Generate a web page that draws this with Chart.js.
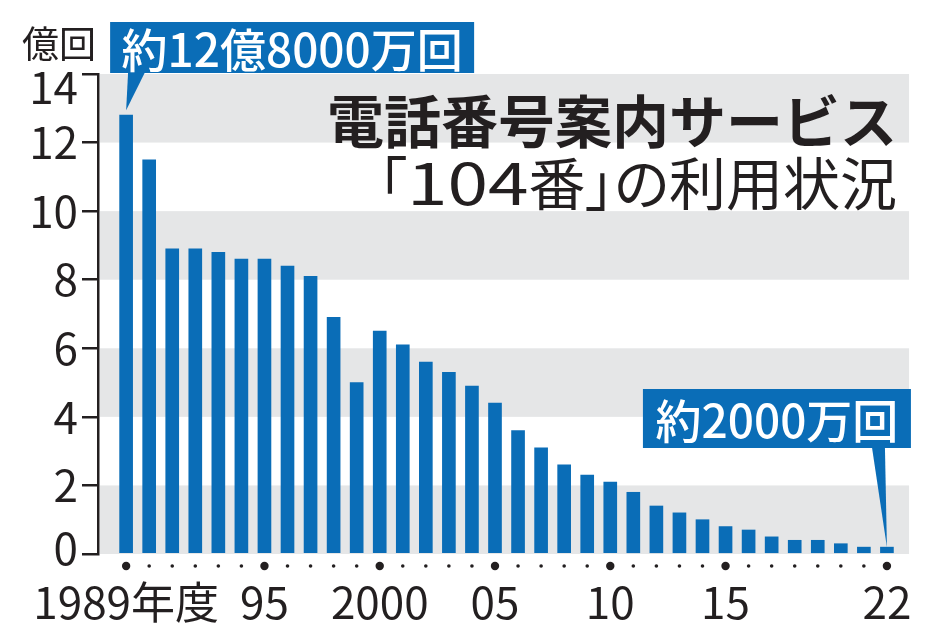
<!DOCTYPE html>
<html lang="ja">
<head>
<meta charset="utf-8">
<title>電話番号案内サービス「104番」の利用状況</title>
<script src="https://cdn.jsdelivr.net/npm/chart.js@4.4.1/dist/chart.umd.min.js"></script>
<style>
  html, body { margin: 0; padding: 0; background: #fff; }
  #wrap { position: relative; width: 934px; height: 638px; }
  #title {
    position: absolute; right: 37px; top: 88px; text-align: right;
    font-family: "Noto Sans CJK JP", sans-serif; color: #231f20; white-space: nowrap;
  }
  #title .l1 { font-size: 57px; font-weight: 700; line-height: 60px; }
  #title .l2 { font-size: 57px; font-weight: 400; line-height: 64px; font-feature-settings: "palt"; }
  #title .num { display: inline-block; transform: scaleX(1.28); transform-origin: 0 50%; margin-right: 27px; }
</style>
</head>
<body>
<div id="wrap">
  <canvas id="chart" width="934" height="638"></canvas>
  <div id="title"></div>
</div>
<script>
(function () {
  'use strict';

  /* 104番の年度別利用回数（億回） */
  const YEARS = [1989, 1990, 1991, 1992, 1993, 1994, 1995, 1996, 1997, 1998,
                 1999, 2000, 2001, 2002, 2003, 2004, 2005, 2006, 2007, 2008,
                 2009, 2010, 2011, 2012, 2013, 2014, 2015, 2016, 2017, 2018,
                 2019, 2020, 2021, 2022];
  const CALLS = [12.8, 11.5, 8.9, 8.9, 8.8, 8.6, 8.6, 8.4, 8.1, 6.9,
                 5.0, 6.5, 6.1, 5.6, 5.3, 4.9, 4.4, 3.6, 3.1, 2.6,
                 2.3, 2.1, 1.8, 1.4, 1.2, 1.0, 0.8, 0.7, 0.5, 0.4,
                 0.4, 0.3, 0.2, 0.2];
  const X_TICKS = [1989, 1995, 2000, 2005, 2010, 2015, 2022];
  const X_TICK_LABELS = ['1989年度', '95', '2000', '05', '10', '15', '22'];
  const Y_TICKS = [0, 2, 4, 6, 8, 10, 12, 14];
  const BANDS = [[0, 2], [4, 6], [8, 10], [12, 14]];
  const UNIT = '億回';
  const TITLE_LINES = ['電話番号案内サービス', '「104番」の利用状況'];
  const CALLOUT_FIRST = '約12億8000万回';
  const CALLOUT_LAST = '約2000万回';

  const BLUE = '#0a6db7';
  const BAND = '#e5e6e7';
  const INK = '#231f20';
  const JP_FONT = '"Noto Sans CJK JP", sans-serif';

  const canvas = document.getElementById('chart');

  /* 見出し（数字は横長に） */
  const titleEl = document.getElementById('title');
  TITLE_LINES.forEach(function (t, i) {
    const d = document.createElement('div');
    d.className = 'l' + (i + 1);
    t.split(/(\d+)/).forEach(function (part) {
      if (!part) return;
      if (/^\d+$/.test(part)) {
        const s = document.createElement('span');
        s.className = 'num';
        s.textContent = part;
        d.appendChild(s);
      } else {
        d.appendChild(document.createTextNode(part));
      }
    });
    titleEl.appendChild(d);
  });

  /* 背景の灰色帯 */
  const bandsPlugin = {
    id: 'bands',
    beforeDatasetsDraw: function (chart) {
      const ctx = chart.ctx, a = chart.chartArea, y = chart.scales.y;
      ctx.save();
      ctx.fillStyle = BAND;
      BANDS.forEach(function (b) {
        const top = y.getPixelForValue(b[1]);
        const bot = y.getPixelForValue(b[0]);
        ctx.fillRect(a.left + 2, top, a.right - a.left - 2, bot - top);
      });
      ctx.restore();
    }
  };

  /* 縦軸の端の目盛り数字を少し内側へ */
  const yLabelNudge = {
    id: 'yLabelNudge',
    beforeDraw: function (chart) {
      const s = chart.scales.y;
      s.getLabelItems().forEach(function (it, i) {
        if (it._nudged || !s.ticks[i]) return;
        it._nudged = true;
        const v = s.ticks[i].value;
        if (v === 14) it.options.translation[1] += 13;
        if (v === 0) it.options.translation[1] -= 6;
      });
    }
  };

  /* 年度の点（目盛り年は大きく） */
  const dotsPlugin = {
    id: 'dots',
    afterDraw: function (chart) {
      const ctx = chart.ctx, x = chart.scales.x;
      const yy = chart.chartArea.bottom + 12;
      ctx.save();
      ctx.fillStyle = INK;
      YEARS.forEach(function (yr) {
        const big = X_TICKS.indexOf(yr) >= 0;
        ctx.beginPath();
        ctx.arc(x.getPixelForValue(yr), yy, big ? 4.2 : 1.8, 0, Math.PI * 2);
        ctx.fill();
      });
      ctx.restore();
    }
  };

  function callout(ctx, box, text, tipX, tipY, baseL, baseR) {
    ctx.fillStyle = BLUE;
    ctx.fillRect(box.x, box.y, box.w, box.h);
    ctx.beginPath();
    ctx.moveTo(baseL, box.y + box.h - 1);
    ctx.lineTo(baseR, box.y + box.h - 1);
    ctx.lineTo(tipX, tipY);
    ctx.closePath();
    ctx.fill();
    ctx.fillStyle = '#fff';
    ctx.font = '500 46px ' + JP_FONT;
    ctx.textAlign = 'center';
    ctx.textBaseline = 'middle';
    ctx.fillText(text, box.x + box.w / 2, box.y + box.h / 2 + 2);
  }

  /* 単位・吹き出し */
  const textPlugin = {
    id: 'texts',
    afterDraw: function (chart) {
      const ctx = chart.ctx, x = chart.scales.x, y = chart.scales.y;
      ctx.save();

      ctx.fillStyle = INK;
      ctx.textAlign = 'left';
      ctx.textBaseline = 'middle';
      ctx.font = '400 37px ' + JP_FONT;
      ctx.fillText(UNIT, 22, 44);

      const x0 = x.getPixelForValue(YEARS[0]);
      const y0 = y.getPixelForValue(CALLS[0]);
      callout(ctx, { x: x0 - 16, y: 22, w: 364, h: 51 }, CALLOUT_FIRST,
        x0, y0 - 5, x0 + 2, x0 + 19);

      const n = YEARS.length - 1;
      const x1 = x.getPixelForValue(YEARS[n]);
      const y1 = y.getPixelForValue(CALLS[n]);
      callout(ctx, { x: x1 - 244, y: 389, w: 268, h: 59 }, CALLOUT_LAST,
        x1, y1, x1 - 15, x1 - 2);

      ctx.restore();
    }
  };

  new Chart(canvas, {
    type: 'bar',
    data: {
      datasets: [{
        data: YEARS.map(function (yr, i) { return { x: yr, y: CALLS[i] }; }),
        backgroundColor: BLUE,
        barThickness: 13,
        borderWidth: 0
      }]
    },
    options: {
      responsive: false,
      animation: false,
      devicePixelRatio: 1,
      layout: { padding: { left: 0, right: 24, top: 74, bottom: 0 } },
      plugins: {
        legend: { display: false },
        tooltip: { enabled: false }
      },
      scales: {
        x: {
          type: 'linear',
          offset: false,
          min: 1987.78,
          max: 2022.96,
          grid: { display: false, drawTicks: false },
          border: { display: false },
          afterBuildTicks: function (s) { s.ticks = X_TICKS.map(function (v) { return { value: v }; }); },
          afterFit: function (s) { s.height = 84; },
          ticks: {
            autoSkip: false,
            maxRotation: 0,
            padding: 22,
            color: INK,
            font: { family: JP_FONT, size: 44 },
            callback: function (v) { return X_TICK_LABELS[X_TICKS.indexOf(v)]; }
          }
        },
        y: {
          min: 0,
          max: 14,
          afterBuildTicks: function (s) { s.ticks = Y_TICKS.map(function (v) { return { value: v }; }); },
          afterFit: function (s) { s.width = 98; },
          grid: { drawOnChartArea: false, drawTicks: true, tickLength: 16, color: INK, lineWidth: 2.5 },
          border: { display: true, color: INK, width: 2.5 },
          ticks: {
            padding: 4,
            color: INK,
            font: { family: JP_FONT, size: 44 }
          }
        }
      }
    },
    plugins: [bandsPlugin, yLabelNudge, dotsPlugin, textPlugin]
  });
})();
</script>
</body>
</html>
